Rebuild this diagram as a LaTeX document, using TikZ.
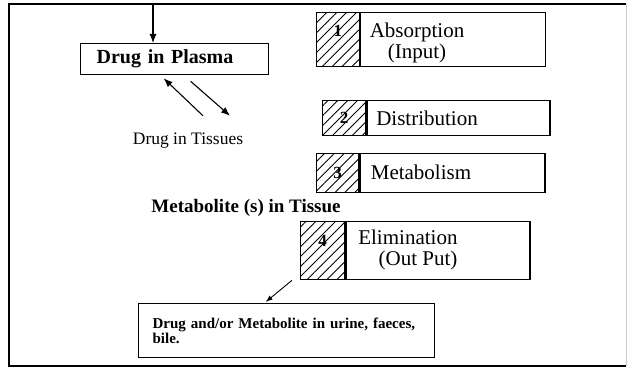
\documentclass[tikz,border=0pt]{standalone}
\usepackage{fontspec}
\setmainfont{Liberation Serif}
\usetikzlibrary{arrows.meta,patterns.meta}

\begin{document}
\begin{tikzpicture}[x=1pt,y=-1pt,
	box/.style={draw,line width=1.3pt,anchor=north west,inner sep=0pt},
	hatch/.style={box,pattern={Lines[angle=45,distance=7pt,line width=0.9pt]}},
	num/.style={font=\fontsize{17}{17}\selectfont\bfseries},
	big/.style={font=\fontsize{21}{21}\selectfont},
	arr/.style={line width=1.1pt,-{Latex[length=9pt,width=7pt]}}]
	\useasboundingbox (0,0) rectangle (628,369);
	\draw[line width=1.3pt] (626,4) -- (9,4) -- (9,366) -- (626,366);
	\draw[gray!40] (626,4) -- (626,366);

	\node[box,inner xsep=16pt,text width=156pt,align=left,minimum height=31pt,font=\fontsize{20}{20}\selectfont\bfseries] (plasma) at (80,43) {Drug in Plasma};
	\coordinate (in) at (153,4);
	\draw[arr] (in) -- (in |- plasma.north);
	\node[font=\fontsize{17.5}{17.5}\selectfont] (tissues) at (188,141) {Drug in Tissues};
	\draw[arr] ([xshift=15pt,yshift=14pt]tissues.north) -- ([xshift=-11pt,yshift=-3pt]plasma.south);
	\draw[arr] ([xshift=16pt,yshift=-6pt]plasma.south) -- ([xshift=42pt,yshift=14pt]tissues.north);
	\node[font=\fontsize{19}{19}\selectfont\bfseries] (metab) at (246,208) {Metabolite (s) in Tissue};

	\node[hatch,minimum width=43pt,minimum height=54pt] (h1) at (316,12) {};
	\node[box,minimum width=185pt,minimum height=54pt] (s1) at (h1.north east) {};
	\node[num] (n1) at ([yshift=9pt]h1.center) {1};
	\node[big,align=center] (t1) at (417,43) {Absorption\\(Input)};

	\node[hatch,minimum width=43pt,minimum height=35pt] (h2) at (322,100) {};
	\node[box,minimum width=183pt,minimum height=35pt] (s2) at (h2.north east) {};
	\node[num] (n2) at (h2.center) {2};
	\node[big] (t2) at (427,118) {Distribution};

	\node[hatch,minimum width=42pt,minimum height=39pt] (h3) at (316,153) {};
	\node[box,minimum width=185pt,minimum height=39pt] (s3) at (h3.north east) {};
	\node[num] (n3) at (h3.center) {3};
	\node[big] (t3) at (421,172) {Metabolism};

	\node[hatch,minimum width=44pt,minimum height=58pt] (h4) at (300,221) {};
	\node[box,minimum width=184pt,minimum height=58pt] (s4) at (h4.north east) {};
	\node[num] (n4) at ([yshift=10pt]h4.center) {4};
	\node[big,align=right,anchor=east] (t4) at (461,250) {Elimination\\(Out Put)};

	\node[box,inner xsep=14pt,text width=268pt,align=left,minimum height=54pt,font=\fontsize{15}{14.5}\selectfont\bfseries] (urine) at (138,303) {Drug and/or Metabolite in urine, faeces,\\bile.};
	\draw[line width=0.9pt,-{Latex[length=7pt,width=5pt]}] ([xshift=-8pt]h4.south west) -- ([xshift=-21pt,yshift=1pt]urine.north);
\end{tikzpicture}
\end{document}
